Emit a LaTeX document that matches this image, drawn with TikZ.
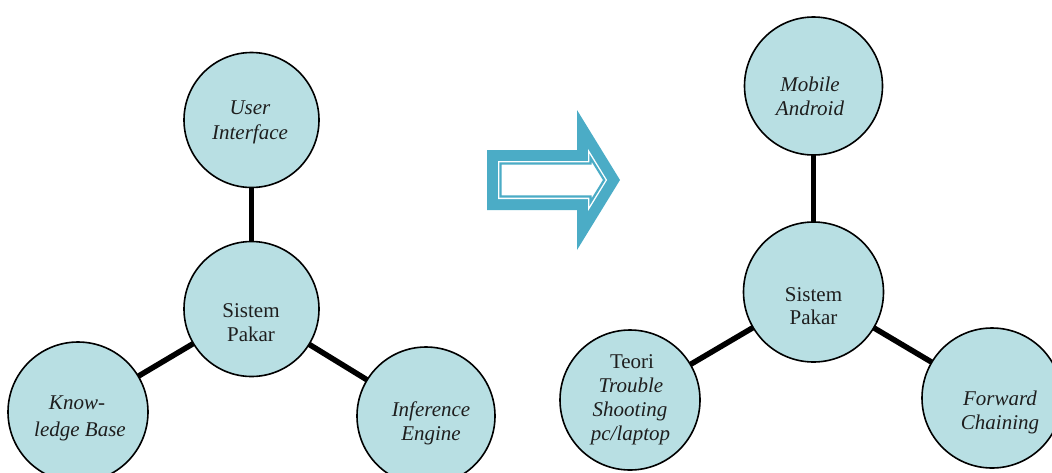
\documentclass[tikz,border=0pt]{standalone}
\usepackage{fontspec}
\setmainfont{Liberation Serif}
\usetikzlibrary{backgrounds}
\definecolor{bubfill}{RGB}{184,223,227}
\definecolor{arrowteal}{RGB}{75,172,198}
\definecolor{txt}{RGB}{30,30,30}
\begin{document}
\begin{tikzpicture}[x=1pt,y=-1pt,
  bub/.style={circle, draw=black, line width=1.6pt, fill=bubfill, inner sep=0pt, minimum size=#1},
  lnk/.style={line width=5.5pt, draw=black},
  lbl/.style={anchor=base, inner sep=0pt, font=\fontsize{21}{24}\selectfont, text=txt},
  ilbl/.style={lbl, font=\fontsize{21}{24}\selectfont\itshape},
]
\useasboundingbox (0,0) rectangle (1052,472);

% circles
\node[bub=135pt] (ui)  at (251.5,120) {};
\node[bub=135pt] (sp1) at (251.5,309) {};
\node[bub=140pt] (kb)  at (78,412) {};
\node[bub=138pt] (ie)  at (426,416) {};
\node[bub=138pt] (ma)  at (813.5,86) {};
\node[bub=140pt] (sp2) at (813.5,292) {};
\node[bub=140pt] (te)  at (630,400) {};
\node[bub=140pt] (fc)  at (992,398) {};

% connectors
\begin{pgfonlayer}{background}
\draw[lnk] (sp1.center) -- (ui.center);
\draw[lnk] (sp1.center) -- (kb.center);
\draw[lnk] (sp1.center) -- (ie.center);
\draw[lnk] (sp2.center) -- (ma.center);
\draw[lnk] (sp2.center) -- (te.center);
\draw[lnk] (sp2.center) -- (fc.center);
\end{pgfonlayer}

% labels
\node[ilbl] (ui1) at (250,114) {User};
\node[ilbl] (ui2) at (250,139) {Interface};
\node[lbl] (sa1) at (251,317) {Sistem};
\node[lbl] (sa2) at (251,341) {Pakar};
\node[ilbl] (kb1) at (77,409) {Know-};
\node[ilbl] (kb2) at (80,436) {ledge Base};
\node[ilbl] (ie1) at (431,416) {Inference};
\node[ilbl] (ie2) at (431,440) {Engine};
\node[ilbl] (ma1) at (810,91) {Mobile};
\node[ilbl] (ma2) at (810,115) {Android};
\node[lbl] (sb1) at (813.5,301) {Sistem};
\node[lbl] (sb2) at (813.5,324) {Pakar};
\node[lbl] (te1) at (632,368) {Teori};
\node[ilbl] (te2) at (631,392) {Trouble};
\node[ilbl] (te3) at (630,416) {Shooting};
\node[ilbl] (te4) at (630.5,440) {pc/laptop};
\node[ilbl] (fc1) at (1000,405) {Forward};
\node[ilbl] (fc2) at (1000,429) {Chaining};

% block arrow
\fill[arrowteal] (487,150) -- (577,150) -- (577,110) -- (620,180) -- (577,250) -- (577,210) -- (487,210) -- cycle;
\fill[white] (498,161) -- (588,161) -- (588,148.9) -- (607.1,180) -- (588,211.1) -- (588,199) -- (498,199) -- cycle;
\draw[arrowteal, line width=2.2pt, line join=miter] (500.5,163.5) -- (590.5,163.5) -- (590.5,157.8) -- (604.2,180) -- (590.5,202.2) -- (590.5,196.5) -- (500.5,196.5) -- cycle;
\end{tikzpicture}
\end{document}
